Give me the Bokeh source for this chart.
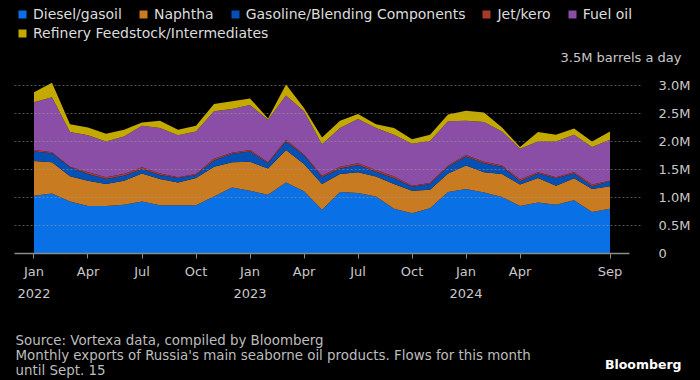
from bokeh.plotting import figure
from bokeh.layouts import column
from bokeh.models import (Range1d, FixedTicker, LinearAxis, Legend, LegendItem,
                          Label, ColumnDataSource)
from bokeh.embed import file_html
from bokeh.resources import INLINE

# ---- data (million barrels a day), Jan 2022 .. Sep 2024 ----
months = [f"{y}-{m:02d}" for y in (2022, 2023, 2024) for m in range(1, 13)][:33]
diesel = [1.03, 1.07, 0.93, 0.85, 0.85, 0.87, 0.93, 0.86, 0.86, 0.86,
          1.02, 1.18, 1.12, 1.05, 1.27, 1.11, 0.78, 1.10, 1.08, 1.02,
          0.80, 0.72, 0.81, 1.10, 1.15, 1.09, 1.01, 0.85, 0.91, 0.87,
          0.95, 0.74, 0.80]
naphtha = [0.62, 0.56, 0.45, 0.45, 0.39, 0.43, 0.50, 0.47, 0.41, 0.49,
           0.53, 0.45, 0.52, 0.47, 0.58, 0.49, 0.46, 0.32, 0.37, 0.355,
           0.44, 0.40, 0.33, 0.33, 0.42, 0.36, 0.41, 0.38, 0.44, 0.34,
           0.395, 0.41, 0.40]
gasoline = [0.17, 0.16, 0.16, 0.12, 0.09, 0.09, 0.08, 0.07, 0.08, 0.05,
            0.11, 0.15, 0.18, 0.09, 0.15, 0.15, 0.12, 0.10, 0.13, 0.085,
            0.105, 0.07, 0.10, 0.12, 0.16, 0.16, 0.13, 0.06, 0.08, 0.135,
            0.085, 0.05, 0.09]
jet = [0.03, 0.02, 0.01, 0.03, 0.03, 0.03, 0.03, 0.03, 0.01, 0.02,
       0.03, 0.02, 0.03, 0.02, 0.03, 0.02, 0.03, 0.03, 0.03, 0.03,
       0.03, 0.02, 0.02, 0.02, 0.03, 0.03, 0.02, 0.03, 0.02, 0.015,
       0.02, 0.03, 0.01]
fuel_oil = [0.85, 0.98, 0.62, 0.66, 0.64, 0.67, 0.74, 0.81, 0.75, 0.76,
            0.85, 0.78, 0.80, 0.76, 0.79, 0.77, 0.56, 0.69, 0.79, 0.75,
            0.745, 0.75, 0.75, 0.79, 0.61, 0.71, 0.61, 0.55, 0.55, 0.64,
            0.67, 0.67, 0.73]
feedstock = [0.18, 0.26, 0.14, 0.14, 0.14, 0.12, 0.06, 0.13, 0.10, 0.10,
             0.13, 0.14, 0.12, 0.02, 0.20, 0.06, 0.12, 0.13, 0.09, 0.07,
             0.12, 0.08, 0.11, 0.12, 0.18, 0.17, 0.07, 0.03, 0.17, 0.12,
             0.11, 0.10, 0.15]

series_names = ["Diesel/gasoil", "Naphtha", "Gasoline/Blending Components",
                "Jet/kero", "Fuel oil", "Refinery Feedstock/Intermediates"]
colors = ["#0a70e6", "#c97b22", "#0450b4", "#a83a2a", "#8a4ea6", "#c4a900"]

tick_pos = [0, 3, 6, 9, 12, 15, 18, 21, 24, 27, 32]
tick_labels = ["Jan", "Apr", "Jul", "Oct", "Jan", "Apr", "Jul", "Oct", "Jan", "Apr", "Sep"]
year_pos = [0, 12, 24]
year_labels = ["2022", "2023", "2024"]
y_ticks = [0, 0.5, 1.0, 1.5, 2.0, 2.5, 3.0]
y_labels = ["0", "0.5M", "1.0M", "1.5M", "2.0M", "2.5M", "3.0M"]
unit_label = "3.5M barrels a day"
unit_level = 3.5
footer_lines = ["Source: Vortexa data, compiled by Bloomberg",
                "Monthly exports of Russia's main seaborne oil products. Flows for this month",
                "until Sept. 15"]
brand = "Bloomberg"

FONT = "DejaVu Sans"
BG = "black"

# ---- main figure: frame spans page x 14..690, y 0..253 ----
X0, X1 = -1.083, 36.47
p = figure(width=700, height=320, output_backend="svg", toolbar_location=None,
           x_range=Range1d(X0, X1), y_range=Range1d(0, 253 / 56),
           y_axis_location="right")
p.min_border_top = 0
p.min_border_left = 14
p.min_border_right = 10
p.min_border_bottom = 67
p.background_fill_color = BG
p.border_fill_color = BG
p.outline_line_color = None

keys = ["s%d" % i for i in range(6)]
src = ColumnDataSource(dict(x=list(range(len(months))), s0=diesel, s1=naphtha,
                            s2=gasoline, s3=jet, s4=fuel_oil, s5=feedstock))
rs = p.varea_stack(stackers=keys, x="x", color=colors, source=src)

# grids
p.xgrid.visible = False
p.ygrid.ticker = FixedTicker(ticks=y_ticks[1:])
p.ygrid.grid_line_color = "#9a9a9a"
p.ygrid.grid_line_alpha = 0.55
p.ygrid.grid_line_dash = "2 2"
p.ygrid.level = "overlay"
try:
    p.ygrid.cross_bounds = (X0, 33.806)
except Exception:
    pass

# x axis (months)
xa = p.xaxis[0]
xa.ticker = FixedTicker(ticks=tick_pos)
xa.major_label_overrides = {k: v for k, v in zip(tick_pos, tick_labels)}
xa.bounds = (X0, 33.1)
xa.axis_line_color = "#8a8a8a"
xa.axis_line_width = 1.5
xa.major_tick_line_color = "#8a8a8a"
xa.major_tick_out = 5
xa.major_tick_in = 0
xa.minor_tick_line_color = None
xa.major_label_standoff = 5
xa.major_label_text_font = FONT
xa.major_label_text_font_size = "13px"
xa.major_label_text_color = "#c8c8c8"

# second x axis (years)
ya2 = LinearAxis(ticker=FixedTicker(ticks=year_pos),
                 major_label_overrides={k: v for k, v in zip(year_pos, year_labels)})
ya2.axis_line_color = None
ya2.major_tick_line_color = None
ya2.minor_tick_line_color = None
ya2.major_label_standoff = 1
ya2.major_label_text_font = FONT
ya2.major_label_text_font_size = "13px"
ya2.major_label_text_color = "#c8c8c8"
p.add_layout(ya2, "below")

# y axis (right), labels pulled in to sit at page x 652
yax = p.yaxis[0]
yax.ticker = FixedTicker(ticks=y_ticks)
yax.major_label_overrides = {k: v for k, v in zip(y_ticks, y_labels)}
yax.axis_line_color = None
yax.major_tick_line_color = None
yax.minor_tick_line_color = None
yax.major_label_standoff = -38
yax.major_label_text_font = FONT
yax.major_label_text_font_size = "13px"
yax.major_label_text_color = "#c8c8c8"

# legends
def make_legend(items, loc):
    lg = Legend(items=items, orientation="horizontal", location=loc)
    lg.glyph_width = 10
    lg.glyph_height = 10
    lg.label_standoff = 6
    lg.spacing = 16
    lg.padding = 0
    lg.margin = 0
    lg.label_height = 14
    lg.label_text_font = FONT
    lg.label_text_font_size = "14px"
    lg.label_text_color = "#dcdcdc"
    lg.border_line_color = None
    lg.background_fill_alpha = 0
    return lg

items = [LegendItem(label=n, renderers=[r]) for n, r in zip(series_names, rs)]
p.add_layout(make_legend(items[:5], (3, 231)))
p.add_layout(make_legend(items[5:], (3, 212)))

p.add_layout(Label(x=35.97, y=unit_level, text=unit_label, text_align="right",
                   text_baseline="middle", text_font=FONT, text_font_size="13px",
                   text_color="#c8c8c8"))

# ---- footer figure: page y 320..380; its frame is aligned with the main
# frame (page x 14..690), so data units equal page pixels ----
f = figure(width=700, height=60, output_backend="svg", toolbar_location=None,
           x_range=Range1d(14, 690), y_range=Range1d(380, 320),
           x_axis_location=None, y_axis_location=None)
f.min_border_left = 14
f.min_border_right = 10
f.min_border_top = 0
f.min_border_bottom = 0
f.background_fill_color = BG
f.border_fill_color = BG
f.outline_line_color = None
f.xgrid.visible = False
f.ygrid.visible = False

for txt, yy in zip(footer_lines, [340, 355, 370]):
    f.add_layout(Label(x=15, y=yy, text=txt, text_align="left", text_baseline="middle",
                       text_font=FONT, text_font_size="13.4px", text_color="#bdbdbd"))
f.add_layout(Label(x=681, y=364, text=brand, text_align="right", text_baseline="middle",
                   text_font=FONT, text_font_size="12.5px", text_color="#ffffff",
                   text_font_style="bold"))

layout = column(p, f, spacing=0)

html = file_html(layout, INLINE)
html = html.replace("<head>", "<head><style>html,body{background:#000;}</style>", 1)
open("out.html", "w").write(html)
